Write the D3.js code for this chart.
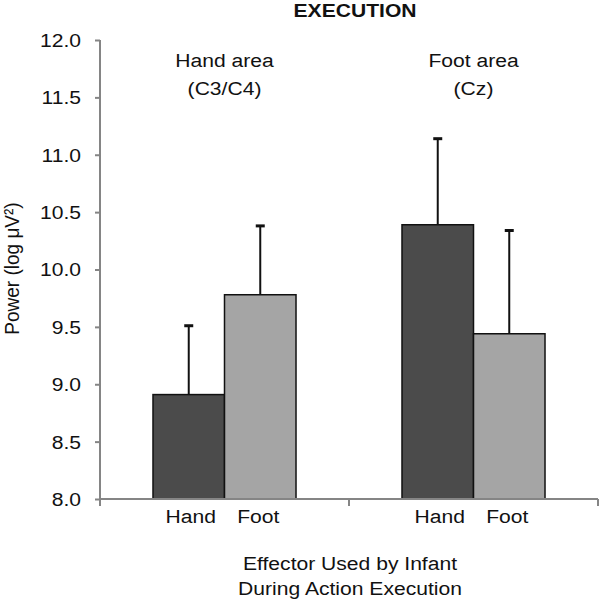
<!DOCTYPE html>
<html>
<head>
<meta charset="utf-8">
<script src="https://cdn.jsdelivr.net/npm/d3@7"></script>
<style>
  html, body { margin: 0; padding: 0; background: #fff; }
  svg { display: block; }
  text { font-family: "Liberation Sans", Arial, sans-serif; fill: #111; }
</style>
</head>
<body>
<svg id="chart" width="600" height="602"></svg>
<script>
// ---- data ----
const groups = ["Hand area", "Foot area"];
const groupSub = ["(C3/C4)", "(Cz)"];
const effectors = ["Hand", "Foot"];
const means = [[8.91, 9.78], [10.39, 9.44]];
const upperErr = [[9.51, 10.38], [11.14, 10.34]];
const yTicks = [8.0, 8.5, 9.0, 9.5, 10.0, 10.5, 11.0, 11.5, 12.0];
const colors = ["#4b4b4b", "#a5a5a5"];
const chartTitle = "EXECUTION";
const yLabel = "Power (log μV²)";
const xLabel = ["Effector Used by Infant", "During Action Execution"];

// ---- layout ----
const svg = d3.select("#chart");
const mLeft = 100, mRight = 598, mTop = 40, mBottom = 499;
const fs = 19;
const sx = 1.11; // horizontal stretch of the original type

const x0 = d3.scaleBand().domain(groups).range([mLeft, mRight]).padding(0);
const x1 = d3.scaleBand().domain(effectors).range([0, x0.bandwidth()])
  .paddingInner(0).paddingOuter(0.741);
const y = d3.scaleLinear().domain([8, 12]).range([mBottom, mTop]);

const axisColor = "#858585";

function label(parent, x, yy, txt, opts = {}) {
  return parent.append("text")
    .attr("transform", `translate(${x},${yy}) scale(${sx},1)`)
    .attr("text-anchor", opts.anchor || "middle")
    .attr("font-size", opts.size || fs)
    .attr("font-weight", opts.weight || null)
    .text(txt);
}

const rows = [];
groups.forEach((g, gi) => effectors.forEach((e, ei) => rows.push({g, e, gi, ei, v: means[gi][ei], u: upperErr[gi][ei]})));

// error bars
const eb = svg.append("g");
rows.forEach(d => {
  const cx = x0(d.g) + x1(d.e) + x1.bandwidth() / 2;
  eb.append("line").attr("x1", cx).attr("x2", cx).attr("y1", y(d.v)).attr("y2", y(d.u))
    .attr("stroke", "#111").attr("stroke-width", 2);
  eb.append("line").attr("x1", cx - 4.5).attr("x2", cx + 4.5).attr("y1", y(d.u)).attr("y2", y(d.u))
    .attr("stroke", "#111").attr("stroke-width", 3);
});

// bars
svg.append("g").selectAll("rect").data(rows).join("rect")
  .attr("x", d => x0(d.g) + x1(d.e))
  .attr("y", d => y(d.v))
  .attr("width", x1.bandwidth())
  .attr("height", d => y(8) - y(d.v))
  .attr("fill", d => colors[d.ei])
  .attr("stroke", "#111")
  .attr("stroke-width", 1.5);

// y axis
const yAxis = d3.axisLeft(y).tickValues(yTicks).tickFormat(d3.format(".1f")).tickSize(5).tickPadding(0);
const gy = svg.append("g").attr("transform", `translate(${mLeft},0)`).call(yAxis);
gy.select(".domain").attr("stroke", axisColor).attr("stroke-width", 2)
  .attr("d", `M0,${mTop}V${mBottom + 7}`);
gy.selectAll(".tick line").attr("stroke", axisColor).attr("stroke-width", 2);
gy.selectAll(".tick text")
  .attr("x", 0).attr("dy", "0.34em")
  .attr("transform", `translate(-19,0) scale(${sx},1)`)
  .attr("font-size", fs).attr("fill", "#111")
  .style("font-family", '"Liberation Sans", Arial, sans-serif');

// x axis
const gx = svg.append("g").attr("transform", `translate(0,${mBottom})`);
gx.append("line").attr("x1", mLeft).attr("x2", mRight).attr("y1", 0).attr("y2", 0)
  .attr("stroke", axisColor).attr("stroke-width", 2);
const boundaries = [x0(groups[1]), mRight];
gx.selectAll("line.tk").data(boundaries).join("line").attr("class", "tk")
  .attr("x1", d => d).attr("x2", d => d).attr("y1", 0).attr("y2", 7)
  .attr("stroke", axisColor).attr("stroke-width", 2);

// effector labels
const el = svg.append("g");
rows.forEach(d => {
  label(el, x0(d.g) + x1(d.e) + x1.bandwidth() / 2 + (d.ei === 0 ? 2 : -2), 523, d.e);
});

// group labels
groups.forEach((g, gi) => {
  const cx = x0(g) + x0.bandwidth() / 2;
  label(svg, cx, 67, g);
  label(svg, cx, 95, groupSub[gi]);
});

// title
label(svg, 355, 17, chartTitle, {weight: "bold"});

// y label
svg.append("text").attr("transform", `translate(19,${(mTop + mBottom) / 2 - 1}) rotate(-90) scale(1,${sx})`)
  .attr("text-anchor", "middle").attr("font-size", fs).text(yLabel);

// x label
xLabel.forEach((t, i) => {
  label(svg, (mLeft + mRight) / 2 + 1, 570 + i * 25, t);
});
</script>
</body>
</html>
